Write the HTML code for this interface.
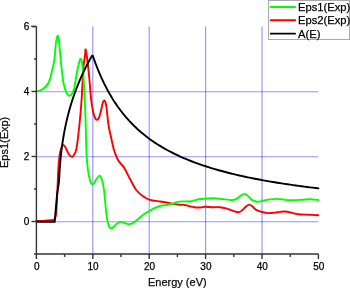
<!DOCTYPE html>
<html><head><meta charset="utf-8"><style>
html,body{margin:0;padding:0;background:#fff;}
body{width:350px;height:288px;overflow:hidden;}
svg{display:block;font-family:"Liberation Sans",sans-serif;}
text{stroke:#000;stroke-width:0.25px;}
svg{will-change:transform;}
</style></head><body>
<svg width="350" height="288" viewBox="0 0 350 288">
<rect width="350" height="288" fill="#fff"/>
<g stroke="#0000ff" stroke-opacity="0.42" stroke-width="1.15" fill="none"><line x1="92.80" y1="26.5" x2="92.80" y2="254" /><line x1="149.20" y1="26.5" x2="149.20" y2="254" /><line x1="205.60" y1="26.5" x2="205.60" y2="254" /><line x1="262.00" y1="26.5" x2="262.00" y2="254" /><line x1="36.40" y1="221.70" x2="318.4" y2="221.70" /><line x1="36.40" y1="156.70" x2="318.4" y2="156.70" /><line x1="36.40" y1="91.70" x2="318.4" y2="91.70" /></g>
<g fill="none" stroke-width="1.9" stroke-linejoin="round" stroke-linecap="round">
<path d="M36.40,220.90 C37.83,220.85 42.15,220.77 45.00,220.60 C47.85,220.43 51.77,220.50 53.50,219.90 C55.23,219.30 54.93,218.32 55.40,217.00 C55.87,215.68 56.00,215.67 56.30,212.00 C56.60,208.33 56.95,200.33 57.20,195.00 C57.45,189.67 57.58,184.83 57.80,180.00 C58.02,175.17 58.23,169.92 58.50,166.00 C58.77,162.08 59.00,159.33 59.40,156.50 C59.80,153.67 60.30,150.92 60.90,149.00 C61.50,147.08 62.33,145.42 63.00,145.00 C63.67,144.58 64.23,145.58 64.90,146.50 C65.57,147.42 66.27,149.08 67.00,150.50 C67.73,151.92 68.55,153.98 69.30,155.00 C70.05,156.02 70.83,156.43 71.50,156.60 C72.17,156.77 72.47,157.35 73.30,156.00 C74.13,154.65 75.47,153.83 76.50,148.50 C77.53,143.17 78.65,132.08 79.50,124.00 C80.35,115.92 80.97,109.17 81.60,100.00 C82.23,90.83 82.73,76.42 83.30,69.00 C83.87,61.58 84.60,58.75 85.00,55.50 C85.40,52.25 85.30,48.68 85.70,49.50 C86.10,50.32 86.83,55.98 87.40,60.40 C87.97,64.82 88.47,69.40 89.10,76.00 C89.73,82.60 90.52,93.95 91.20,100.00 C91.88,106.05 92.53,109.27 93.20,112.30 C93.87,115.33 94.57,116.95 95.20,118.20 C95.83,119.45 96.38,119.83 97.00,119.80 C97.62,119.77 98.27,119.38 98.90,118.00 C99.53,116.62 100.18,113.92 100.80,111.50 C101.42,109.08 102.02,105.33 102.60,103.50 C103.18,101.67 103.80,100.65 104.30,100.50 C104.80,100.35 105.22,101.35 105.60,102.60 C105.98,103.85 106.12,104.27 106.60,108.00 C107.08,111.73 107.77,120.17 108.50,125.00 C109.23,129.83 110.08,132.83 111.00,137.00 C111.92,141.17 112.92,146.33 114.00,150.00 C115.08,153.67 116.33,156.67 117.50,159.00 C118.67,161.33 119.87,162.50 121.00,164.00 C122.13,165.50 122.80,165.50 124.30,168.00 C125.80,170.50 127.97,175.28 130.00,179.00 C132.03,182.72 134.33,187.42 136.50,190.30 C138.67,193.18 140.78,194.70 143.00,196.30 C145.22,197.90 146.97,199.03 149.80,199.90 C152.63,200.77 157.47,201.12 160.00,201.50 C162.53,201.88 162.83,201.80 165.00,202.20 C167.17,202.60 170.60,203.47 173.00,203.90 C175.40,204.33 177.65,204.67 179.40,204.80 C181.15,204.93 181.97,204.50 183.50,204.70 C185.03,204.90 186.80,205.57 188.60,206.00 C190.40,206.43 192.40,207.05 194.30,207.30 C196.20,207.55 198.13,207.58 200.00,207.50 C201.87,207.42 203.33,206.85 205.50,206.80 C207.67,206.75 210.58,207.13 213.00,207.20 C215.42,207.27 217.67,206.95 220.00,207.20 C222.33,207.45 224.83,208.08 227.00,208.70 C229.17,209.32 231.08,210.30 233.00,210.90 C234.92,211.50 236.83,212.52 238.50,212.30 C240.17,212.08 241.75,210.57 243.00,209.60 C244.25,208.63 244.95,207.33 246.00,206.50 C247.05,205.67 248.22,204.60 249.30,204.60 C250.38,204.60 251.43,205.67 252.50,206.50 C253.57,207.33 254.12,208.68 255.70,209.60 C257.28,210.52 259.85,211.42 262.00,212.00 C264.15,212.58 266.43,213.00 268.60,213.10 C270.77,213.20 273.10,212.80 275.00,212.60 C276.90,212.40 278.33,212.08 280.00,211.90 C281.67,211.72 283.17,211.38 285.00,211.50 C286.83,211.62 288.83,212.15 291.00,212.60 C293.17,213.05 294.83,213.83 298.00,214.20 C301.17,214.57 306.60,214.62 310.00,214.80 C313.40,214.98 317.00,215.22 318.40,215.30" stroke="#ff0000"/>
<path d="M36.40,91.30 C37.08,91.13 39.17,90.90 40.50,90.30 C41.83,89.70 43.27,88.65 44.40,87.70 C45.53,86.75 46.43,85.82 47.30,84.60 C48.17,83.38 48.80,82.75 49.60,80.40 C50.40,78.05 51.32,73.90 52.10,70.50 C52.88,67.10 53.70,64.25 54.30,60.00 C54.90,55.75 55.28,48.62 55.70,45.00 C56.12,41.38 56.45,39.85 56.80,38.30 C57.15,36.75 57.48,35.70 57.80,35.70 C58.12,35.70 58.43,36.75 58.70,38.30 C58.97,39.85 59.06,41.38 59.40,45.00 C59.74,48.62 60.17,54.25 60.75,60.00 C61.33,65.75 62.32,75.20 62.90,79.50 C63.48,83.80 63.75,83.95 64.20,85.80 C64.65,87.65 65.08,89.20 65.60,90.60 C66.12,92.00 66.67,93.35 67.30,94.20 C67.93,95.05 68.72,95.63 69.40,95.70 C70.08,95.77 70.83,95.22 71.40,94.60 C71.97,93.98 72.32,93.17 72.80,92.00 C73.28,90.83 73.62,90.85 74.30,87.60 C74.98,84.35 76.03,76.88 76.90,72.50 C77.77,68.12 78.87,63.60 79.50,61.30 C80.13,59.00 80.25,58.33 80.70,58.70 C81.15,59.07 81.75,60.62 82.20,63.50 C82.65,66.38 82.97,69.92 83.40,76.00 C83.83,82.08 84.40,91.00 84.80,100.00 C85.20,109.00 85.50,120.83 85.80,130.00 C86.10,139.17 86.23,148.25 86.60,155.00 C86.97,161.75 87.47,166.42 88.00,170.50 C88.53,174.58 89.27,177.37 89.80,179.50 C90.33,181.63 90.73,182.47 91.20,183.30 C91.67,184.13 92.10,184.52 92.60,184.50 C93.10,184.48 93.55,184.12 94.20,183.20 C94.85,182.28 95.58,180.27 96.50,179.00 C97.42,177.73 98.78,175.43 99.70,175.60 C100.62,175.77 101.28,177.60 102.00,180.00 C102.72,182.40 103.25,184.17 104.00,190.00 C104.75,195.83 105.80,209.37 106.50,215.00 C107.20,220.63 107.70,221.77 108.20,223.80 C108.70,225.83 109.07,226.43 109.50,227.20 C109.93,227.97 110.33,228.28 110.80,228.40 C111.27,228.52 111.72,228.27 112.30,227.90 C112.88,227.53 113.52,226.93 114.30,226.20 C115.08,225.47 115.97,224.22 117.00,223.50 C118.03,222.78 119.17,221.97 120.50,221.90 C121.83,221.83 123.53,222.72 125.00,223.10 C126.47,223.48 127.92,224.27 129.30,224.20 C130.68,224.13 132.00,223.40 133.30,222.70 C134.60,222.00 135.98,220.90 137.10,220.00 C138.22,219.10 139.03,218.15 140.00,217.30 C140.97,216.45 141.90,215.63 142.90,214.90 C143.90,214.17 144.95,213.53 146.00,212.90 C147.05,212.27 147.87,211.85 149.20,211.10 C150.53,210.35 152.20,209.25 154.00,208.40 C155.80,207.55 158.17,206.53 160.00,206.00 C161.83,205.47 163.33,205.48 165.00,205.20 C166.67,204.92 168.65,204.58 170.00,204.30 C171.35,204.02 171.93,203.85 173.10,203.50 C174.27,203.15 175.57,202.55 177.00,202.20 C178.43,201.85 180.20,201.53 181.70,201.40 C183.20,201.27 184.67,201.38 186.00,201.40 C187.33,201.42 188.37,201.67 189.70,201.50 C191.03,201.33 192.40,200.78 194.00,200.40 C195.60,200.02 197.38,199.48 199.30,199.20 C201.22,198.92 203.22,198.85 205.50,198.70 C207.78,198.55 210.08,198.23 213.00,198.30 C215.92,198.37 220.00,198.80 223.00,199.10 C226.00,199.40 229.00,200.03 231.00,200.10 C233.00,200.17 233.83,199.85 235.00,199.50 C236.17,199.15 237.00,198.70 238.00,198.00 C239.00,197.30 239.88,195.98 241.00,195.30 C242.12,194.62 243.53,193.78 244.70,193.90 C245.87,194.02 246.88,195.05 248.00,196.00 C249.12,196.95 249.88,198.65 251.40,199.60 C252.92,200.55 255.33,201.47 257.10,201.70 C258.87,201.93 260.08,201.35 262.00,201.00 C263.92,200.65 266.08,199.95 268.60,199.60 C271.12,199.25 274.25,198.85 277.10,198.90 C279.95,198.95 283.55,199.67 285.70,199.90 C287.85,200.13 287.35,200.32 290.00,200.30 C292.65,200.28 298.27,199.97 301.60,199.80 C304.93,199.63 307.20,199.27 310.00,199.30 C312.80,199.33 317.00,199.88 318.40,200.00" stroke="#00ff00"/>
<path d="M36.4,221.8 L54.7,221.8 L57.00,195.00 L59.00,181.87 L59.50,172.23 L60.00,165.18 L60.50,159.46 L61.00,154.56 L61.50,150.25 L62.00,146.36 L62.50,142.81 L63.00,139.54 L63.50,136.48 L64.00,133.62 L64.50,130.91 L65.00,128.35 L65.50,125.91 L66.00,123.58 L66.50,121.34 L67.00,119.20 L67.50,117.13 L68.00,115.13 L68.50,113.20 L69.00,111.33 L69.50,109.52 L70.00,107.76 L70.50,106.05 L71.00,104.38 L71.50,102.76 L72.00,101.17 L72.50,99.63 L73.00,98.11 L73.50,96.64 L74.00,95.19 L74.50,93.77 L75.00,92.38 L75.50,91.02 L76.00,89.68 L76.50,88.37 L77.00,87.08 L77.50,85.81 L78.00,84.56 L78.50,83.34 L79.00,82.13 L79.50,80.94 L80.00,79.77 L80.50,78.62 L81.00,77.48 L81.50,76.37 L82.00,75.26 L82.50,74.17 L83.00,73.10 L83.50,72.04 L84.00,70.99 L84.50,69.96 L85.00,68.94 L85.50,67.93 L86.00,66.93 L86.50,65.95 L87.00,64.97 L87.50,64.01 L88.00,63.06 L88.50,62.12 L89.00,61.19 L89.50,60.27 L90.00,59.35 L90.50,58.45 L91.00,57.56 L91.50,56.67 L92.00,55.79 L92.50,55.80 L92.80,55.80 L95.62,63.69 L98.44,70.86 L101.26,77.41 L104.08,83.42 L106.90,88.94 L109.72,94.04 L112.54,98.76 L115.36,103.14 L118.18,107.22 L121.00,111.03 L123.82,114.60 L126.64,117.94 L129.46,121.08 L132.28,124.03 L135.10,126.81 L137.92,129.44 L140.74,131.93 L143.56,134.29 L146.38,136.53 L149.20,138.65 L152.02,140.67 L154.84,142.60 L157.66,144.43 L160.48,146.18 L163.30,147.86 L166.12,149.46 L168.94,150.99 L171.76,152.46 L174.58,153.87 L177.40,155.22 L180.22,156.52 L183.04,157.77 L185.86,158.97 L188.68,160.13 L191.50,161.25 L194.32,162.32 L197.14,163.36 L199.96,164.36 L202.78,165.33 L205.60,166.27 L208.42,167.17 L211.24,168.05 L214.06,168.90 L216.88,169.72 L219.70,170.52 L222.52,171.29 L225.34,172.04 L228.16,172.76 L230.98,173.47 L233.80,174.16 L236.62,174.82 L239.44,175.47 L242.26,176.10 L245.08,176.72 L247.90,177.31 L250.72,177.89 L253.54,178.46 L256.36,179.01 L259.18,179.55 L262.00,180.07 L264.82,180.59 L267.64,181.09 L270.46,181.57 L273.28,182.05 L276.10,182.51 L278.92,182.97 L281.74,183.41 L284.56,183.84 L287.38,184.26 L290.20,184.68 L293.02,185.08 L295.84,185.48 L298.66,185.87 L301.48,186.24 L304.30,186.62 L307.12,186.98 L309.94,187.34 L312.76,187.68 L315.58,188.03 L318.40,188.36" stroke="#000"/>
</g>
<g stroke="#333" stroke-width="1.4" fill="none">
<line x1="36.4" y1="26.5" x2="36.4" y2="254"/>
<line x1="35.699999999999996" y1="254" x2="318.4" y2="254"/>
<line x1="31.5" y1="26.5" x2="36.4" y2="26.5"/>
<line x1="36.40" y1="254" x2="36.40" y2="259" /><line x1="92.80" y1="254" x2="92.80" y2="259" /><line x1="149.20" y1="254" x2="149.20" y2="259" /><line x1="205.60" y1="254" x2="205.60" y2="259" /><line x1="262.00" y1="254" x2="262.00" y2="259" /><line x1="318.40" y1="254" x2="318.40" y2="259" /><line x1="64.60" y1="254" x2="64.60" y2="257" /><line x1="121.00" y1="254" x2="121.00" y2="257" /><line x1="177.40" y1="254" x2="177.40" y2="257" /><line x1="233.80" y1="254" x2="233.80" y2="257" /><line x1="290.20" y1="254" x2="290.20" y2="257" /><line x1="31.5" y1="221.50" x2="36.40" y2="221.50" /><line x1="31.5" y1="156.50" x2="36.40" y2="156.50" /><line x1="31.5" y1="91.50" x2="36.40" y2="91.50" /><line x1="31.5" y1="26.50" x2="36.40" y2="26.50" /><line x1="34" y1="254.00" x2="36.40" y2="254.00" /><line x1="34" y1="189.00" x2="36.40" y2="189.00" /><line x1="34" y1="124.00" x2="36.40" y2="124.00" /><line x1="34" y1="59.00" x2="36.40" y2="59.00" />
</g>
<g font-size="10" fill="#000"><text x="36.70" y="269.6" text-anchor="middle">0</text><text x="93.10" y="269.6" text-anchor="middle">10</text><text x="149.50" y="269.6" text-anchor="middle">20</text><text x="205.90" y="269.6" text-anchor="middle">30</text><text x="262.30" y="269.6" text-anchor="middle">40</text><text x="318.70" y="269.6" text-anchor="middle">50</text><text x="29.2" y="224.70" text-anchor="end">0</text><text x="29.2" y="159.70" text-anchor="end">2</text><text x="29.2" y="94.70" text-anchor="end">4</text><text x="29.2" y="29.70" text-anchor="end">6</text></g>
<text x="177.3" y="286" font-size="11" text-anchor="middle" fill="#111">Energy (eV)</text>
<text transform="translate(7.9,142.4) rotate(-90)" font-size="11" text-anchor="middle" fill="#111">Eps1(Exp)</text>
<rect x="268.5" y="0.5" width="81" height="39" fill="#fff" stroke="#aaa" stroke-width="1"/>
<g stroke-width="2" stroke-linecap="round">
<line x1="270.8" y1="6.9" x2="295.1" y2="6.9" stroke="#00ff00"/>
<line x1="270.8" y1="20.2" x2="295.1" y2="20.2" stroke="#ff0000"/>
<line x1="270.8" y1="33.7" x2="295.1" y2="33.7" stroke="#000" stroke-width="1.8"/>
</g>
<g font-size="11.2" fill="#000">
<text x="298" y="11">Eps1(Exp)</text>
<text x="298" y="24.3">Eps2(Exp)</text>
<text x="298" y="37.6">A(E)</text>
</g>
</svg>
</body></html>
